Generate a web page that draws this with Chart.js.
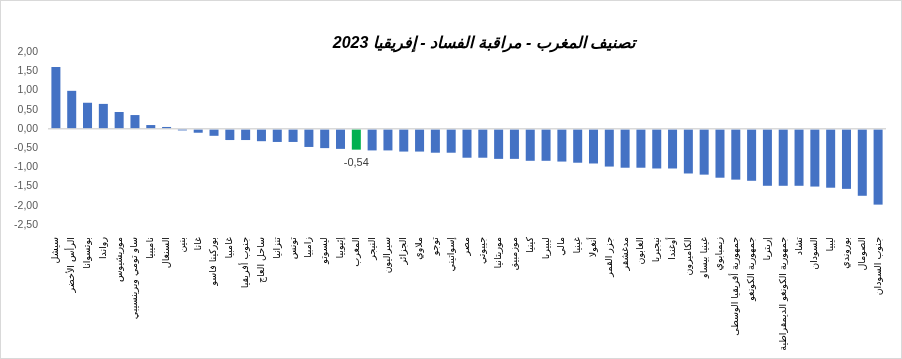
<!DOCTYPE html>
<html lang="ar">
<head>
<meta charset="utf-8">
<script src="https://cdn.jsdelivr.net/npm/chart.js@4.4.1/dist/chart.umd.min.js"></script>
<style>
  html, body { margin: 0; padding: 0; background: #fff; }
</style>
</head>
<body>
<canvas id="chart" width="902" height="359"></canvas>
<script>
const chartTitle = 'تصنيف المغرب - مراقبة الفساد - إفريقيا 2023';

const countries = [
  'سيشل', 'الرأس الأخضر', 'بوتسوانا', 'رواندا', 'موريشيوس', 'ساو تومي وبرينسيبي',
  'ناميبيا', 'السنغال', 'بنين', 'غانا', 'بوركينا فاسو', 'غامبيا', 'جنوب أفريقيا',
  'ساحل العاج', 'تنزانيا', 'تونس', 'زامبيا', 'ليسوتو', 'إثيوبيا', 'المغرب',
  'النيجر', 'سيراليون', 'الجزائر', 'ملاوي', 'توجو', 'إسواتيني', 'مصر', 'جيبوتي',
  'موريتانيا', 'موزمبيق', 'كينيا', 'ليبيريا', 'مالي', 'غينيا', 'أنغولا',
  'جزر القمر', 'مدغشقر', 'الغابون', 'نيجيريا', 'أوغندا', 'الكاميرون', 'غينيا بيساو',
  'زيمبابوي', 'جمهورية أفريقيا الوسطى', 'جمهورية الكونغو', 'إريتريا',
  'جمهورية الكونغو الديمقراطية', 'تشاد', 'السودان', 'ليبيا', 'بوروندي', 'الصومال',
  'جنوب السودان'
];

const scores = [
  1.61, 0.99, 0.68, 0.65, 0.44, 0.36,
  0.10, 0.05, -0.04, -0.10, -0.18, -0.29, -0.29,
  -0.32, -0.34, -0.34, -0.47, -0.50, -0.52, -0.54,
  -0.56, -0.56, -0.59, -0.59, -0.62, -0.62, -0.75, -0.75,
  -0.78, -0.78, -0.83, -0.83, -0.85, -0.88, -0.90,
  -0.98, -1.01, -1.01, -1.03, -1.03, -1.16, -1.19,
  -1.27, -1.32, -1.35, -1.48,
  -1.48, -1.48, -1.50, -1.53, -1.56, -1.74,
  -1.97
];

const highlight = 'المغرب';
const yMin = -2.5;
const yMax = 2;
const yStep = 0.5;

function fmt(v) {
  return v.toFixed(2).replace('.', ',');
}

// fond blanc, cadre, titre et étiquette du Maroc
const decor = {
  id: 'decor',
  beforeDraw(chart) {
    const c = chart.ctx;
    c.save();
    c.fillStyle = '#fff';
    c.fillRect(0, 0, chart.width, chart.height);
    c.restore();
  },
  afterDraw(chart) {
    const c = chart.ctx;
    c.save();
    c.strokeStyle = '#d9d9d9';
    c.lineWidth = 1;
    c.strokeRect(0.5, 0.5, chart.width - 1, chart.height - 1);

    c.fillStyle = '#000';
    c.font = 'italic bold 16px "Liberation Sans", "DejaVu Sans", sans-serif';
    c.textAlign = 'center';
    c.textBaseline = 'middle';
    c.fillText(chartTitle, 484, 44);

    const i = countries.indexOf(highlight);
    const bar = chart.getDatasetMeta(0).data[i];
    c.fillStyle = '#404040';
    c.font = '11px "Liberation Sans", sans-serif';
    c.fillText(fmt(scores[i]), bar.x, bar.y + 13);
    c.restore();
  }
};

new Chart(document.getElementById('chart'), {
  type: 'bar',
  data: {
    labels: countries,
    datasets: [{
      data: scores,
      backgroundColor: countries.map(n => n === highlight ? '#00B050' : '#4472C4'),
      barPercentage: 0.57,
      categoryPercentage: 1
    }]
  },
  options: {
    responsive: false,
    animation: false,
    devicePixelRatio: 1,
    layout: { padding: { top: 52, right: 16, bottom: 0, left: 0 } },
    plugins: {
      legend: { display: false },
      tooltip: { enabled: false }
    },
    scales: {
      x: {
        grid: { display: false },
        border: { display: false },
        ticks: {
          autoSkip: false,
          minRotation: 90,
          maxRotation: 90,
          padding: 4,
          color: '#000',
          font: { family: 'DejaVu Sans', size: 9.5 }
        },
        afterFit(s) { s.height = 134; }
      },
      y: {
        min: yMin,
        max: yMax,
        border: { display: false },
        grid: {
          drawTicks: false,
          lineWidth: 1.5,
          color: ctx => ctx.tick && ctx.tick.value === 0 ? '#d9d9d9' : 'transparent'
        },
        ticks: {
          stepSize: yStep,
          padding: 10,
          color: '#595959',
          font: { family: 'Liberation Sans', size: 10.5 },
          callback: v => fmt(v)
        },
        afterFit(s) { s.width = 48; }
      }
    }
  },
  plugins: [decor]
});
</script>
</body>
</html>
